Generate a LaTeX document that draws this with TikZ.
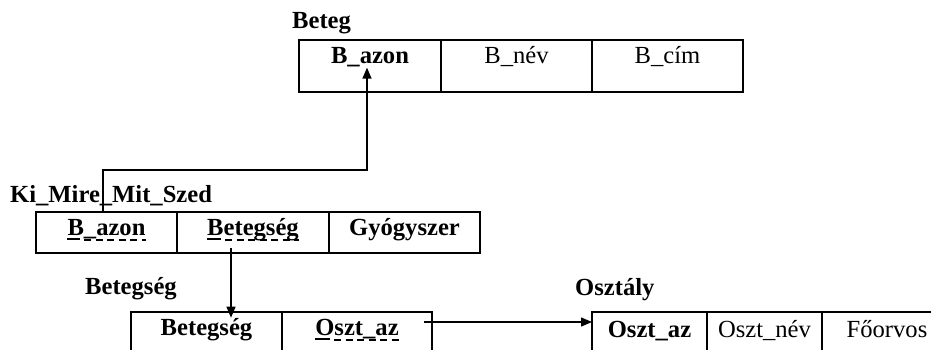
\documentclass[tikz,border=0pt]{standalone}
\usepackage{fontspec}
\setmainfont{Liberation Serif}
\usetikzlibrary{arrows.meta}

\tikzset{
  cell/.style={draw, line width=1.3pt, anchor=north west, inner sep=0pt, outer sep=0pt, minimum height=#1},
  cell/.default=52pt,
  plain/.style={anchor=base, inner sep=0pt, font=\fontsize{24.6}{28}\selectfont},
  key/.style={plain, font=\fontsize{24.6}{28}\selectfont\bfseries},
  title/.style={anchor=base west, inner sep=0pt, font=\fontsize{24.6}{28}\selectfont\bfseries},
  link/.style={line width=1.3pt, -{Triangle[length=11pt,width=9pt]}},
}

% solid stroke under the first letter, dashes under the rest
\newcommand{\fkline}[2]{%
  \draw[line width=1.4pt] ([yshift=-4pt]#1.base west) -- +(#2,0);
  \draw[line width=1.4pt, dash pattern=on 7pt off 4.5pt]
    ([yshift=-5pt,xshift=#2pt+4pt]#1.base west) -- ([yshift=-5pt]#1.base east);
}

\begin{document}
\begin{tikzpicture}[x=1pt,y=-1pt]
\useasboundingbox (0,0) rectangle (931,349);
\clip (0,0) rectangle (931,349);

% Beteg
\node[title] (tbeteg) at (292,28) {Beteg};
\node[cell, minimum width=142pt] (bazon) at (299,40) {};
\node[cell, minimum width=151pt] (bnev) at (441,40) {};
\node[cell, minimum width=151pt] (bcim) at (592,40) {};
\node[key] (bazon-t) at ([yshift=-23pt]bazon.north) {B\_azon};
\node[plain] (bnev-t) at ([yshift=-23pt]bnev.north) {B\_név};
\node[plain] (bcim-t) at ([yshift=-23pt]bcim.north) {B\_cím};

% Ki_Mire_Mit_Szed
\node[title] (tkimire) at (10,202) {Ki\_Mire\_Mit\_Szed};
\node[cell=41pt, minimum width=141pt] (kbazon) at (36,212) {};
\node[cell=41pt, minimum width=152pt] (kbeteg) at (177,212) {};
\node[cell=41pt, minimum width=151pt] (kgyogy) at (329,212) {};
\node[key] (kbazon-t) at ([yshift=-23pt]kbazon.north) {B\_azon};
\node[key] (kbeteg-t) at ([yshift=-23pt]kbeteg.north) {Betegség};
\node[key] (kgyogy-t) at ([yshift=-23pt]kgyogy.north) {Gyógyszer};
\fkline{kbazon-t}{13}
\fkline{kbeteg-t}{14}

% Betegség
\node[title] (tbetegseg) at (85,294) {Betegség};
\node[cell=50pt, minimum width=151pt] (sbeteg) at (131,312) {};
\node[cell=50pt, minimum width=150pt] (soszt) at (282,312) {};
\node[key] (sbeteg-t) at ([yshift=-23pt]sbeteg.north) {Betegség};
\node[key] (soszt-t) at ([yshift=-23pt]soszt.north) {Oszt\_az};
\fkline{soszt-t}{15}

% Osztály
\node[title] (tosztaly) at (575,295) {Osztály};
\node[cell=50pt, minimum width=115pt] (ooszt) at (592,312) {};
\node[cell=50pt, minimum width=115pt] (onev) at (707,312) {};
\node[cell=50pt, minimum width=130pt] (oforv) at (822,312) {};
\node[key] (ooszt-t) at ([yshift=-25pt]ooszt.north) {Oszt\_az};
\node[plain] (onev-t) at ([yshift=-25pt]onev.north) {Oszt\_név};
\node[plain] (oforv-t) at ([yshift=-25pt]oforv.north) {Főorvos};

% references
\coordinate (kout) at (103,211);
\draw[link] (kout) -- (103,170) -| ([xshift=-3pt,yshift=-1pt]bazon-t.south);
\coordinate (kdown) at (231,248);
\draw[link] (kdown) -- (kdown |- sbeteg-t.north);
\coordinate (sout) at (424,322);
\draw[link] (sout) -- (sout -| ooszt.west);
\end{tikzpicture}
\end{document}
